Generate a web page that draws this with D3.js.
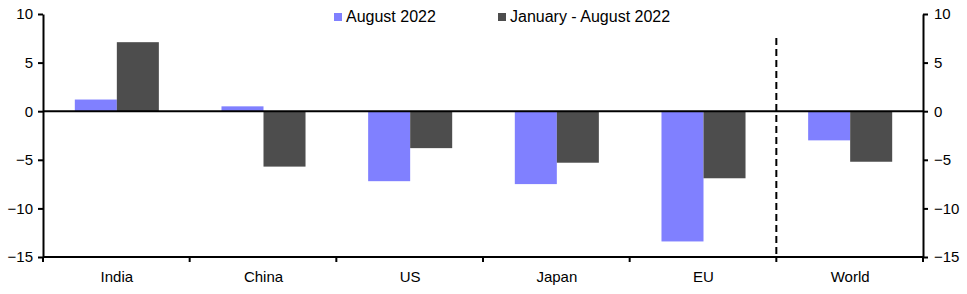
<!DOCTYPE html>
<html>
<head>
<meta charset="utf-8">
<script src="https://cdn.jsdelivr.net/npm/d3@7"></script>
<style>
    body { margin: 0; background: #fff; }
    text { font-family: "Liberation Sans", Arial, sans-serif; fill: #000; }
</style>
</head>
<body>
<svg id="chart"></svg>
<script>
// data
const categories = ["India", "China", "US", "Japan", "EU", "World"];
const seriesNames = ["August 2022", "January - August 2022"];
const august = [1.2, 0.5, -7.2, -7.5, -13.4, -3.0];
const janToAug = [7.1, -5.7, -3.8, -5.3, -6.9, -5.2];
const yTicks = [10, 5, 0, -5, -10, -15];

const config = {
    width: 967,
    height: 294,
    left: 43,
    right: 923,
    top: 14,
    bottom: 257,
    colors: ["#8080ff", "#4d4d4d"]
};

const svg = d3.select("#chart")
    .attr("width", config.width)
    .attr("height", config.height);

const x0 = d3.scaleBand()
    .domain(categories)
    .range([config.left + 0.5, config.right + 0.5])
    .paddingInner(0.427)
    .paddingOuter(0.2135);

const x1 = d3.scaleBand()
    .domain(seriesNames)
    .range([0, x0.bandwidth()]);

const y = d3.scaleLinear().domain([-15, 10]).range([config.bottom, config.top]);

const rows = categories.map((c, i) => ({ cat: c, values: [august[i], janToAug[i]] }));

// bars
const g = svg.selectAll("g.group")
    .data(rows)
    .enter()
    .append("g")
    .attr("class", "group")
    .attr("transform", d => `translate(${x0(d.cat)}, 0)`);

g.selectAll("rect")
    .data(d => d.values.map((v, i) => ({ key: seriesNames[i], value: v, i })))
    .enter()
    .append("rect")
    .attr("x", d => x1(d.key))
    .attr("width", x1.bandwidth())
    .attr("y", d => y(Math.max(0, d.value)))
    .attr("height", d => Math.abs(y(d.value) - y(0)))
    .attr("fill", d => config.colors[d.i]);

// zero line
svg.append("line")
    .attr("x1", config.left).attr("x2", config.right)
    .attr("y1", y(0)).attr("y2", y(0))
    .attr("stroke", "#000").attr("stroke-width", 2);

// dashed separator before World
const sepX = config.left + 5 * x0.step();
svg.append("line")
    .attr("x1", sepX).attr("x2", sepX)
    .attr("y1", 38).attr("y2", config.bottom)
    .attr("stroke", "#000").attr("stroke-width", 2)
    .attr("stroke-dasharray", "7,4");

// y axes
const yAxisLeft = d3.axisLeft(y).tickValues(yTicks).tickSize(5).tickSizeOuter(0).tickPadding(5);
const yAxisRight = d3.axisRight(y).tickValues(yTicks).tickSize(5).tickSizeOuter(0).tickPadding(6);

function styleAxis(sel) {
    sel.selectAll(".domain").attr("stroke-width", 2);
    sel.selectAll(".tick line").attr("stroke-width", 2);
    sel.selectAll("text").style("font-size", "15px");
}

svg.append("g")
    .attr("class", "y-axis")
    .attr("transform", `translate(${config.left}, 0)`)
    .call(yAxisLeft)
    .call(styleAxis);

svg.append("g")
    .attr("class", "y-axis")
    .attr("transform", `translate(${config.right}, 0)`)
    .call(yAxisRight)
    .call(styleAxis);

// x axis: labels in band centres, ticks at category boundaries
const xAxis = d3.axisBottom(x0).tickSize(0).tickPadding(14);
svg.append("g")
    .attr("class", "x-axis")
    .attr("transform", `translate(0, ${config.bottom})`)
    .call(xAxis)
    .call(g => g.select(".domain").remove())
    .call(g => g.selectAll("text").style("font-size", "15px"));

svg.append("line")
    .attr("x1", config.left).attr("x2", config.right)
    .attr("y1", config.bottom).attr("y2", config.bottom)
    .attr("stroke", "#000").attr("stroke-width", 2);

const boundaries = d3.range(0, categories.length + 1).map(i => config.left + i * x0.step());
svg.selectAll("line.xtick")
    .data(boundaries)
    .enter()
    .append("line")
    .attr("class", "xtick")
    .attr("x1", d => d).attr("x2", d => d)
    .attr("y1", config.bottom).attr("y2", config.bottom + 5)
    .attr("stroke", "#000").attr("stroke-width", 2);

// legend
const legend = svg.append("g").attr("class", "legend");
const legendX = [334, 498];
seriesNames.forEach((name, i) => {
    legend.append("rect")
        .attr("x", legendX[i]).attr("y", 13)
        .attr("width", 8).attr("height", 8)
        .attr("fill", config.colors[i]);
    legend.append("text")
        .attr("x", legendX[i] + 12).attr("y", 22)
        .style("font-size", "16px")
        .text(name);
});
</script>
</body>
</html>
